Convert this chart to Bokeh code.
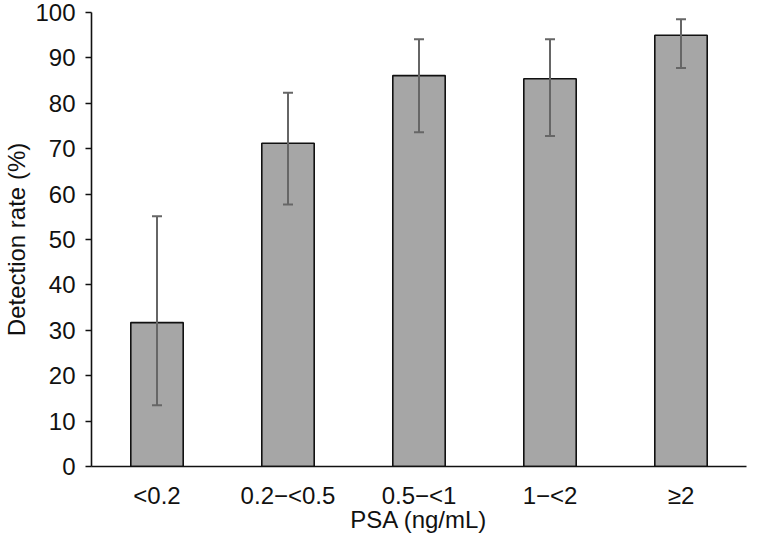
from bokeh.plotting import figure
from bokeh.models import ColumnDataSource, Range1d, FactorRange, FixedTicker, Whisker, TeeHead
from bokeh.embed import file_html
from bokeh.resources import INLINE

categories = ["<0.2", "0.2\u2212<0.5", "0.5\u2212<1", "1\u2212<2", "\u22652"]
rates = [31.7, 71.2, 86.1, 85.4, 95.0]
ci_lower = [13.5, 57.7, 73.6, 72.8, 87.8]
ci_upper = [55.1, 82.3, 94.1, 94.1, 98.5]
y_ticks = [0, 10, 20, 30, 40, 50, 60, 70, 80, 90, 100]
x_title = "PSA (ng/mL)"
y_title = "Detection rate (%)"

FONT = "Liberation Sans"
FS = "24px"

src = ColumnDataSource(data=dict(cat=categories, rate=rates, lower=ci_lower, upper=ci_upper))

p = figure(width=749, height=535, x_range=FactorRange(*categories, range_padding=0),
           y_range=Range1d(0, 100), output_backend="svg", toolbar_location=None,
           min_border_left=86, min_border_right=3, min_border_top=12, min_border_bottom=60)
p.outline_line_color = None
p.grid.grid_line_color = None
p.background_fill_color = "white"

p.vbar(x="cat", top="rate", width=0.4, source=src, fill_color="#A6A6A6",
       line_color="#111111", line_width=1.6)

wh = Whisker(source=src, base="cat", upper="upper", lower="lower", dimension="height",
             line_color="#666666", line_width=2, level="overlay",
             upper_head=TeeHead(size=10, line_color="#666666", line_width=2),
             lower_head=TeeHead(size=10, line_color="#666666", line_width=2))
p.add_layout(wh)

# y axis
ya = p.yaxis[0]
ya.ticker = FixedTicker(ticks=y_ticks)
ya.minor_tick_line_color = None
ya.major_tick_in = 0
ya.major_tick_out = 6
ya.major_tick_line_color = "#111111"
ya.major_tick_line_width = 1.6
ya.axis_line_color = "#111111"
ya.axis_line_width = 1.6
ya.major_label_text_font = FONT
ya.major_label_text_font_size = FS
ya.major_label_text_color = "#111111"
ya.major_label_standoff = 10
ya.axis_label = y_title
ya.axis_label_text_font = FONT
ya.axis_label_text_font_size = FS
ya.axis_label_text_font_style = "normal"
ya.axis_label_text_color = "#111111"
ya.axis_label_standoff = 2

# x axis
xa = p.xaxis[0]
xa.major_tick_line_color = None
xa.minor_tick_line_color = None
xa.major_tick_in = 0
xa.major_tick_out = 0
xa.axis_line_color = "#111111"
xa.axis_line_width = 1.6
xa.major_label_text_font = FONT
xa.major_label_text_font_size = FS
xa.major_label_text_color = "#111111"
xa.major_label_standoff = 15
xa.axis_label = x_title
xa.axis_label_text_font = FONT
xa.axis_label_text_font_size = FS
xa.axis_label_text_font_style = "normal"
xa.axis_label_text_color = "#111111"
xa.axis_label_standoff = -6

open("out.html", "w").write(file_html(p, INLINE))
